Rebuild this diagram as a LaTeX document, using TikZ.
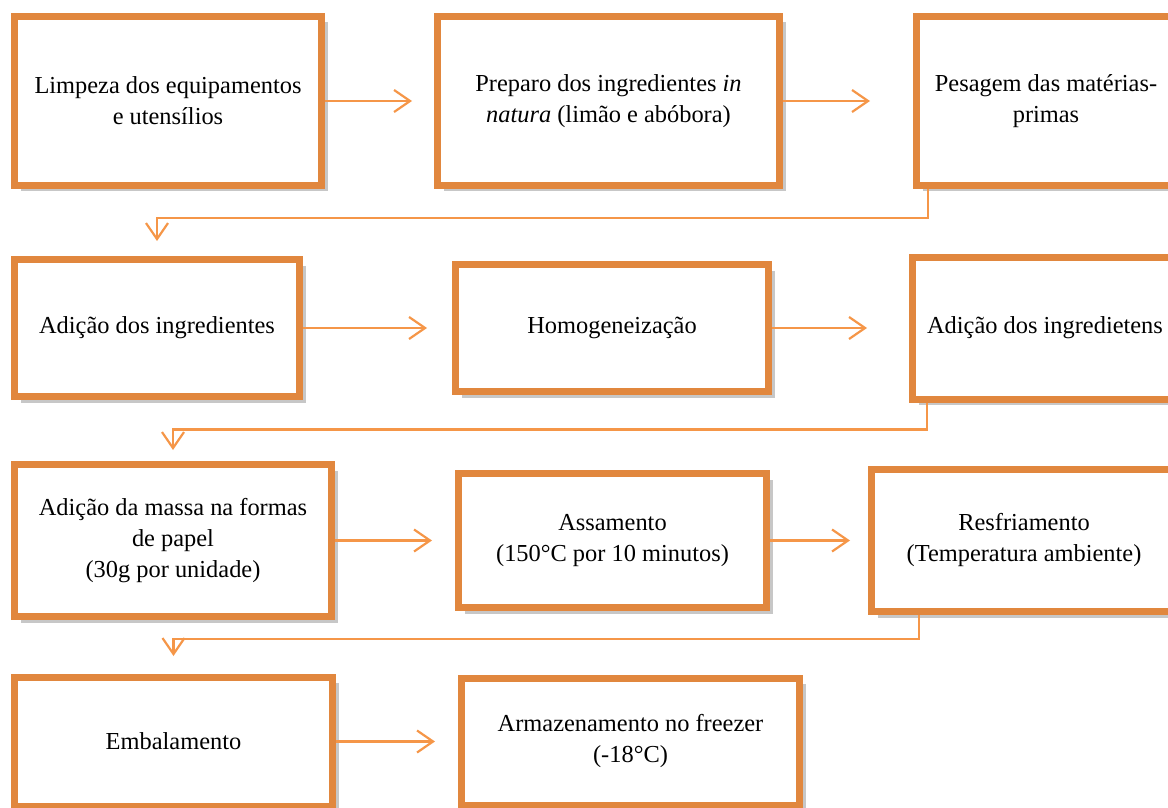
\documentclass[tikz,border=0pt]{standalone}
\usepackage{fontspec}
\setmainfont{Liberation Serif}
\usetikzlibrary{positioning,arrows.meta,shadows}
\definecolor{caixa}{RGB}{225,135,62}
\definecolor{seta}{RGB}{245,150,72}

\begin{document}
\begin{tikzpicture}[node distance=54.5pt]
  \tikzstyle{box}=[draw=caixa,line width=3.5pt,fill=white,align=center,inner sep=2pt,font=\fontsize{12.2}{15.5}\selectfont,drop shadow={shadow xshift=3pt,shadow yshift=-3pt,opacity=0.22,fill=black}]
  \tikzstyle{link}=[draw=seta,line width=1.1pt,-{Straight Barb[length=8pt,width=11pt]}]
  \useasboundingbox (0,0) rectangle (584pt,-404pt);
  \node[box,minimum width=153.5pt,minimum height=84.5pt] (limpeza) at (84pt,-50.5pt) {Limpeza dos equipamentos\\e utensílios};
  \node[box,minimum width=171pt,minimum height=84.5pt,right=54.5pt of limpeza] (preparo) {Preparo dos ingredientes \textit{in}\\\textit{natura} (limão e abóbora)};
  \node[box,minimum width=129.5pt,minimum height=84.5pt,right=65pt of preparo] (pesagem) {Pesagem das matérias-\\primas};
  \node[box,minimum width=142.5pt,minimum height=68.5pt] (adicao) at (78.5pt,-164pt) {Adição dos ingredientes};
  \node[box,minimum width=156.5pt,minimum height=63.5pt,right=74.5pt of adicao] (homog) {Homogeneização};
  \node[box,minimum width=132.5pt,minimum height=71pt,right=68.5pt of homog] (adicaob) {Adição dos ingredietens};
  \node[box,minimum width=158.5pt,minimum height=76pt] (massa) at (86.5pt,-270.25pt) {Adição da massa na formas\\de papel\\(30g por unidade)};
  \node[box,minimum width=154pt,minimum height=67pt,right=60pt of massa] (assam) {Assamento\\(150°C por 10 minutos)};
  \node[box,minimum width=152.5pt,minimum height=71pt,right=49pt of assam] (resfr) {Resfriamento\\(Temperatura ambiente)};
  \node[box,minimum width=159pt,minimum height=64.5pt] (embal) at (86.75pt,-370.75pt) {Embalamento};
  \node[box,minimum width=169pt,minimum height=63.5pt,right=61pt of embal] (armaz) {Armazenamento no freezer\\(-18°C)};
  \draw[link,shorten >=11pt] (limpeza) -- (preparo);
  \draw[link,shorten >=21.5pt] (preparo) -- (pesagem);
  \draw[link,shorten >=7.5pt] ([xshift=7.5pt]pesagem.south west) -- ++(0,-14.5pt) -| (adicao.north);
  \draw[link,shorten >=12.5pt] (adicao) -- (homog);
  \draw[link,shorten >=21pt] (homog) -- (adicaob);
  \draw[link,shorten >=5.5pt] ([xshift=9pt]adicaob.south west) -- ++(0,-13.5pt) -| (massa.north);
  \draw[link,shorten >=11.5pt] (massa) -- (assam);
  \draw[link,shorten >=9pt] (assam) -- (resfr);
  \draw[link,shorten >=8.75pt] ([xshift=25.5pt]resfr.south west) -- ++(0,-12pt) -| (embal.north);
  \draw[link,shorten >=11.5pt] (embal) -- (armaz);
\end{tikzpicture}
\end{document}
